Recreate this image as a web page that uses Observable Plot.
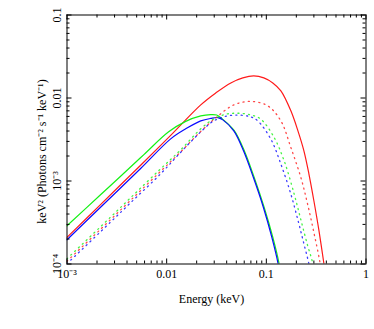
<!DOCTYPE html>
<html><head><meta charset="utf-8">
<script src="https://cdn.jsdelivr.net/npm/d3@7"></script>
<script src="https://cdn.jsdelivr.net/npm/@observablehq/plot@0.6"></script>
<style>
html,body{margin:0;padding:0;background:#fff;}
</style></head><body><div id="chart"></div>
<script>
// ---- Data (E in keV, keV^2 photons cm^-2 s^-1 keV^-1) ----
const energySolidRed = [0.001,0.00217,0.00548,0.01097,0.02198,0.0311,0.0440,0.0581,0.0748,0.0944,0.1161,0.140,0.1762,0.2075,0.2382,0.2673,0.2999,0.3373,0.3787,0.415];
const fluxSolidRed   = [2.09e-4,5.20e-4,1.55e-3,3.54e-3,8.26e-3,0.01151,0.01520,0.01746,0.01845,0.01746,0.01520,0.01217,7.00e-3,4.02e-3,2.31e-3,1.22e-3,5.78e-4,2.52e-4,1.0e-4,4.8e-5];

const energySolidGreen = [0.001,0.00217,0.00345,0.00591,0.01047,0.01552,0.02198,0.02767,0.0318,0.0366,0.04747,0.05981,0.0754,0.0950,0.1161,0.1345,0.145];
const fluxSolidGreen   = [2.89e-4,6.82e-4,1.14e-3,2.08e-3,3.91e-3,5.23e-3,6.09e-3,6.31e-3,6.23e-3,5.53e-3,4.07e-3,2.34e-3,1.108e-3,4.83e-4,2.10e-4,1.0e-4,5.5e-5];

const energySolidBlue = [0.001,0.00217,0.00548,0.01097,0.01552,0.02198,0.02767,0.03256,0.0366,0.04715,0.0590,0.0742,0.0935,0.1136,0.1314,0.1416];
const fluxSolidBlue   = [1.96e-4,4.83e-4,1.414e-3,3.22e-3,4.25e-3,5.30e-3,5.68e-3,5.81e-3,5.45e-3,4.02e-3,2.31e-3,1.10e-3,4.80e-4,2.09e-4,1.0e-4,5.5e-5];

const energyDottedRed = [0.001,0.00217,0.004347,0.008702,0.01382,0.02198,0.0311,0.04715,0.0699,0.1035,0.140,0.1762,0.2221,0.2595,0.3022,0.3473,0.370];
const fluxDottedRed   = [1.081e-4,2.62e-4,5.86e-4,1.308e-3,2.246e-3,3.96e-3,5.76e-3,8.26e-3,9.10e-3,8.04e-3,5.30e-3,2.53e-3,1.10e-3,5.27e-4,2.30e-4,1.0e-4,5.5e-5];

const energyDottedGreen = [0.001,0.00217,0.004347,0.008702,0.01382,0.02198,0.02968,0.04102,0.05541,0.0699,0.0881,0.1198,0.1510,0.1903,0.2221,0.2583,0.2934,0.3145];
const fluxDottedGreen   = [1.158e-4,2.81e-4,6.28e-4,1.402e-3,2.374e-3,4.25e-3,5.60e-3,6.44e-3,6.53e-3,6.26e-3,5.56e-3,3.34e-3,1.75e-3,6.96e-4,3.41e-4,1.708e-4,1.0e-4,5.5e-5];

const energyDottedBlue = [0.001,0.00217,0.004347,0.008702,0.01382,0.02198,0.02968,0.04102,0.05541,0.0699,0.0821,0.1110,0.140,0.1762,0.2121,0.2409,0.2673,0.2867];
const fluxDottedBlue   = [1.008e-4,2.446e-4,5.47e-4,1.221e-3,2.215e-3,3.91e-3,5.30e-3,6.09e-3,6.21e-3,5.92e-3,5.30e-3,3.19e-3,1.597e-3,6.96e-4,3.05e-4,1.661e-4,1.0e-4,5.5e-5];

const seriesColors = {red: "#ff1a1a", green: "#14f014", blue: "#0a0aff"};

// Axes
const xMajor = [0.001, 0.01, 0.1, 1];
const xMajorLabels = ["10\u207B\u00B3", "0.01", "0.1", "1"];
const yMajor = [1e-4, 1e-3, 0.01, 0.1];
const yMajorLabels = ["10\u207B\u2074", "10\u207B\u00B3", "0.01", "0.1"];
const minorMultipliers = [2, 3, 4, 5, 6, 7, 8, 9];
const xMinor = [0.001, 0.01, 0.1].flatMap(d => minorMultipliers.map(m => d * m));
const yMinor = [1e-4, 1e-3, 0.01].flatMap(d => minorMultipliers.map(m => d * m));
const xTitle = "Energy (keV)";
const yTitle = "keV\u00B2 (Photons cm\u207B\u00B2 s\u207B\u00B9 keV\u207B\u00B9)";

// ---- Build table ----
const series = [
  {color: "red", dotted: false, e: energySolidRed, f: fluxSolidRed},
  {color: "green", dotted: false, e: energySolidGreen, f: fluxSolidGreen},
  {color: "blue", dotted: false, e: energySolidBlue, f: fluxSolidBlue},
  {color: "red", dotted: true, e: energyDottedRed, f: fluxDottedRed},
  {color: "green", dotted: true, e: energyDottedGreen, f: fluxDottedGreen},
  {color: "blue", dotted: true, e: energyDottedBlue, f: fluxDottedBlue}
];

const W = 374, H = 329;
const mL = 66.5, mR = 8.5, mT = 14.5, mB = 65.5;
const plotW = W - mL - mR, plotH = H - mT - mB;
const font = "Liberation Serif, Times New Roman, serif";

const lineMarks = series.map(s => {
  const rows = s.e.map((e, i) => ({energy: e, flux: s.f[i]}));
  return Plot.line(rows, {
    x: "energy", y: "flux",
    stroke: seriesColors[s.color],
    strokeWidth: s.dotted ? 1.3 : 1.2,
    strokeDasharray: s.dotted ? "1.1,4.2" : null,
    strokeOpacity: s.dotted ? 0.8 : 1,
    curve: "catmull-rom",
    clip: true
  });
});

const chart = Plot.plot({
  width: W, height: H,
  marginLeft: mL, marginRight: mR, marginTop: mT, marginBottom: mB,
  x: {type: "log", domain: [1e-3, 1], axis: null},
  y: {type: "log", domain: [1e-4, 0.1], axis: null},
  style: {fontFamily: font, fontSize: "12px", background: "#fff", color: "#000"},
  marks: [
    ...lineMarks,
    Plot.frame({stroke: "#000", strokeWidth: 1}),
    // bottom & top ticks
    Plot.tickX(xMajor, {x: d => d, insetTop: plotH - 5, stroke: "#000"}),
    Plot.tickX(xMinor, {x: d => d, insetTop: plotH - 3, stroke: "#000"}),
    Plot.tickX(xMajor, {x: d => d, insetBottom: plotH - 5, stroke: "#000"}),
    Plot.tickX(xMinor, {x: d => d, insetBottom: plotH - 3, stroke: "#000"}),
    // left & right ticks
    Plot.tickY(yMajor, {y: d => d, insetRight: plotW - 5, stroke: "#000"}),
    Plot.tickY(yMinor, {y: d => d, insetRight: plotW - 3, stroke: "#000"}),
    Plot.tickY(yMajor, {y: d => d, insetLeft: plotW - 5, stroke: "#000"}),
    Plot.tickY(yMinor, {y: d => d, insetLeft: plotW - 3, stroke: "#000"}),
    // tick labels
    Plot.text(xMajor, {x: d => d, text: (d, i) => xMajorLabels[i], frameAnchor: "bottom", dy: 14, lineAnchor: "bottom", fontSize: 12, fontFamily: font, fill: "#000"}),
    Plot.text(yMajor, {y: d => d, text: (d, i) => yMajorLabels[i], frameAnchor: "left", dx: -6.5, rotate: -90, textAnchor: "middle", lineAnchor: "bottom", fontSize: 12, fontFamily: font, fill: "#000"}),
    // axis titles
    Plot.text([xTitle], {text: d => d, frameAnchor: "bottom", dx: -5, dy: 39, lineAnchor: "bottom", fontSize: 12, fontFamily: font, fill: "#000"}),
    Plot.text([yTitle], {text: d => d, frameAnchor: "left", dx: -21.5, dy: 12, rotate: -90, textAnchor: "middle", lineAnchor: "bottom", fontSize: 12, fontFamily: font, fill: "#000"})
  ]
});
document.getElementById("chart").appendChild(chart);
</script>
</body></html>
